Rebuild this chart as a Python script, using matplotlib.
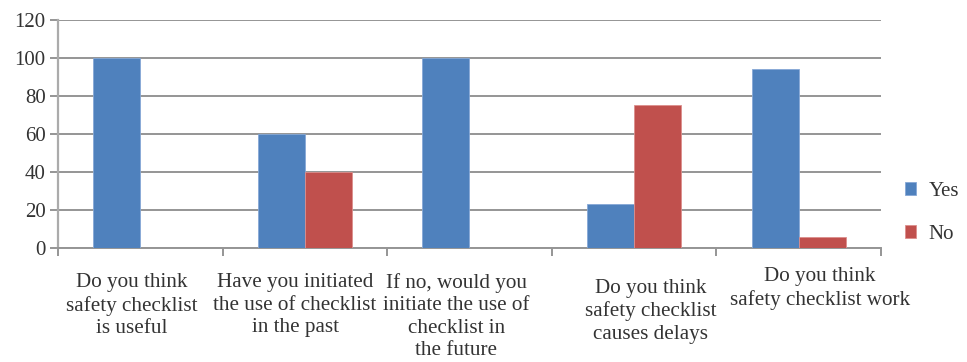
import matplotlib
matplotlib.use("Agg")
import matplotlib.pyplot as plt
import numpy as np

categories = [
    "Do you think\nsafety checklist\nis useful",
    "Have you initiated\nthe use of checklist\nin the past",
    "If no, would you\ninitiate the use of\nchecklist in\nthe future",
    "Do you think\nsafety checklist\ncauses delays",
    "Do you think\nsafety checklist work",
]
yes_values = [100, 60, 100, 23, 94]
no_values = [0, 40, 0, 75, 6]
y_ticks = [0, 20, 40, 60, 80, 100, 120]

plt.rcParams["font.family"] = ["Liberation Serif", "DejaVu Serif"]

BLUE = "#4f81bd"
RED = "#c0504d"
GRID = "#959595"
AXIS = "#ababab"
TEXT = "#333333"

fig = plt.figure(figsize=(9.67, 3.62), dpi=100)
ax = fig.add_axes([0.06, 0.315, 0.851, 0.63])

x = np.arange(len(categories))
w = 0.286
ax.bar(x - w / 2, yes_values, width=w, color=BLUE, edgecolor="#86a8d6",
       linewidth=0.6, label="Yes", zorder=3)
ax.bar(x + w / 2, no_values, width=w, color=RED, edgecolor="#dc8f8d",
       linewidth=0.6, label="No", zorder=3)

ax.set_xlim(-0.5, len(categories) - 0.5)
ax.set_ylim(0, 120)
ax.set_yticks(y_ticks)
ax.yaxis.grid(True, color=GRID, linewidth=1.4, zorder=0)
ax.set_axisbelow(True)

for side in ("top", "right"):
    ax.spines[side].set_visible(False)
ax.spines["left"].set_color(AXIS)
ax.spines["left"].set_linewidth(1.6)
ax.spines["bottom"].set_color(GRID)
ax.spines["bottom"].set_linewidth(1.4)

ax.tick_params(axis="y", direction="out", length=6, width=1.4, color=GRID,
               labelsize=15, labelcolor=TEXT, pad=3)
# Category boundaries carry the tick marks; labels are drawn separately
ax.set_xticks(np.arange(-0.5, len(categories)), labels=[""] * (len(categories) + 1))
ax.tick_params(axis="x", direction="out", length=6, width=1.4, color=GRID)

# Category labels below the axis
label_shift = [-0.05, -0.06, -0.08, 0.1, 0.13]
label_top = [-0.11, -0.11, -0.11, -0.135, -0.085]
for i, text in enumerate(categories):
    ax.text(i + label_shift[i], label_top[i], text,
            transform=ax.get_xaxis_transform(), ha="center", va="top",
            fontsize=15.2, color=TEXT, linespacing=1.25)

ax.legend(loc="center left", bbox_to_anchor=(1.006, 0.155), frameon=False,
          fontsize=15, handlelength=0.55, handleheight=0.55, labelspacing=1.15,
          handletextpad=0.6, labelcolor=TEXT)

fig.savefig("out.png", dpi=100)
